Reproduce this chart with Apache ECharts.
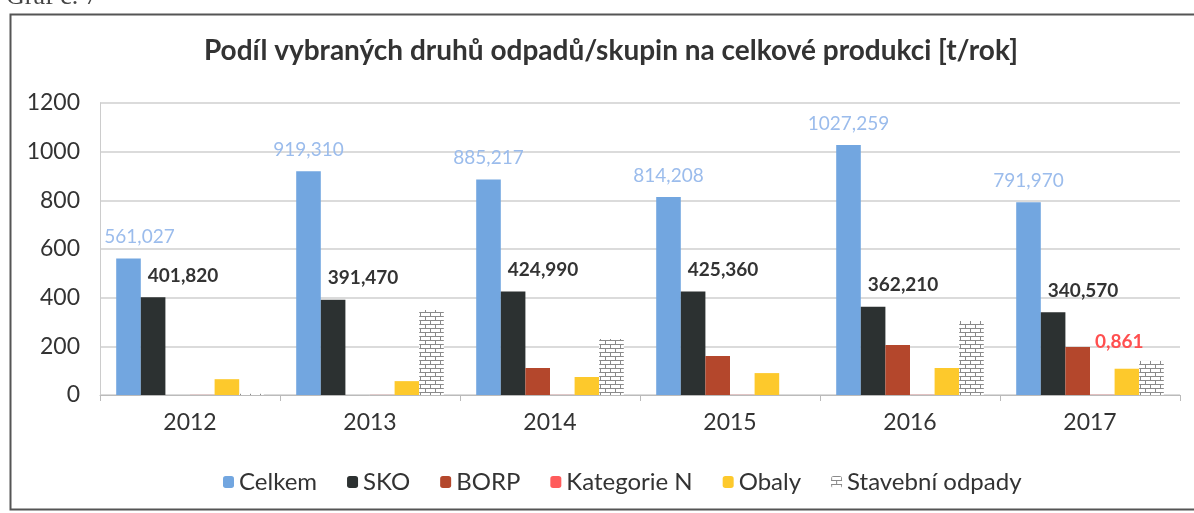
<!DOCTYPE html>
<html><head><meta charset="utf-8">
<script src="https://cdn.jsdelivr.net/npm/echarts@6/dist/echarts.min.js"></script>
<style>html,body{margin:0;padding:0;background:#fff}#c{width:1194px;height:513px}</style>
</head><body><div id="c"></div>
<script>
const categories = ['2012','2013','2014','2015','2016','2017'];
const celkem = [561.027, 919.310, 885.217, 814.208, 1027.259, 791.970];
const sko = [401.820, 391.470, 424.990, 425.360, 362.210, 340.570];
const borp = [0, 0, 111, 160, 205, 197];
const kategorieN = [0.5, 0.5, 0.6, 0.7, 0.8, 0.861];
const obaly = [65, 57, 74, 90, 111, 108];
const stavebni = [5, 349, 230, 0, 304, 140];
const yTicks = [0, 200, 400, 600, 800, 1000, 1200];

const FONT = 'Lato';
const fmt = v => v.toFixed(3).replace('.', ',');

// brick pattern
const pc = document.createElement('canvas');
pc.width = 10; pc.height = 8;
const g = pc.getContext('2d');
g.fillStyle = '#ffffff'; g.fillRect(0,0,10,8);
g.fillStyle = '#8a8a8a';
g.fillRect(0,0,10,1); g.fillRect(0,4,10,1);
g.fillRect(0,0,1,4); g.fillRect(5,4,1,4);

const chart = echarts.init(document.getElementById('c'));
const base = {type:'bar', barGap:'0%', barCategoryGap:'18%'};
chart.setOption({
  animation:false,
  title:{text:'Podíl vybraných druhů odpadů/skupin na celkové produkci [t/rok]', left:606, textAlign:'center', top:32,
    textStyle:{fontFamily:FONT, fontWeight:'bold', fontSize:28, color:'#333'}},
  graphic:[
    {type:'rect', shape:{x:10.5,y:14.5,width:1200,height:495}, style:{fill:'none', stroke:'#555', lineWidth:2}, z:-1},
    {type:'text', left:6, top:-16, style:{text:'Graf č. 7', font:'26px "Liberation Serif"', fill:'#444'}}
  ],
  legend:{bottom:14, left:218, itemWidth:11, itemHeight:12, itemGap:30,
    textStyle:{fontFamily:FONT, fontSize:24, color:'#333'},
    data:['Celkem','SKO','BORP','Kategorie N','Obaly','Stavební odpady']},
  grid:{left:100, right:14, top:103, bottom:118},
  xAxis:{type:'category', data:categories,
    axisLine:{lineStyle:{color:'#bbb'}}, axisTick:{show:true, length:6, lineStyle:{color:'#bbb'}},
    axisLabel:{fontFamily:FONT, fontSize:23, color:'#333', margin:16}},
  yAxis:{type:'value', min:yTicks[0], max:yTicks[yTicks.length-1], interval:200,
    axisLine:{show:true, lineStyle:{color:'#ccc'}},
    splitLine:{lineStyle:{color:'#cfcfcf', width:1.5}},
    axisLabel:{fontFamily:FONT, fontSize:23, color:'#333', margin:20, formatter:v=>String(v)}},
  series:[
    Object.assign({}, base, {name:'Celkem', data:celkem.map((v,i)=> i===0 ? {value:v, label:{offset:[11,0]}} : v),
      itemStyle:{color:'#72a6e0'},
      label:{show:true, position:'top', distance:12, formatter:p=>fmt(p.value), fontFamily:FONT, fontSize:19, color:'#9bbcec'}}),
    Object.assign({}, base, {name:'SKO', data:sko, itemStyle:{color:'#2c3131'},
      label:{show:true, position:'top', distance:12, offset:[30,0], formatter:p=>fmt(p.value), fontFamily:FONT, fontWeight:'bold', fontSize:19, color:'#333'}}),
    Object.assign({}, base, {name:'BORP', data:borp, itemStyle:{color:'#b4472c'}}),
    Object.assign({}, base, {name:'Kategorie N', data:kategorieN.map((v,i)=> i===5 ? {value:v, label:{show:true, position:'top', offset:[17,-38], formatter:p=>fmt(p.value), fontFamily:FONT, fontWeight:'bold', fontSize:19, color:'#ff4f4f'}} : v),
      itemStyle:{color:'#ff5c5c'}}),
    Object.assign({}, base, {name:'Obaly', data:obaly, itemStyle:{color:'#fdc92c'}}),
    Object.assign({}, base, {name:'Stavební odpady', data:stavebni, itemStyle:{color:{image:pc, repeat:'repeat'}}})
  ]
});
</script></body></html>
